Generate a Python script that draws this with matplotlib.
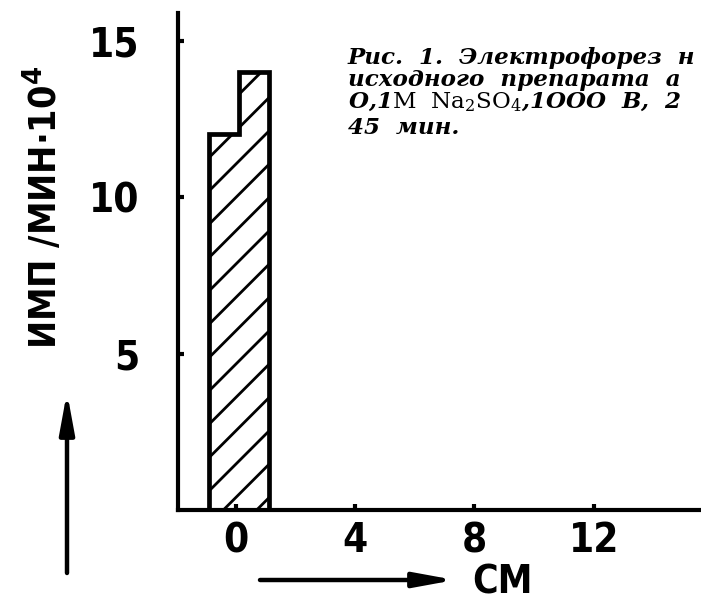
import matplotlib
matplotlib.use("Agg")
import matplotlib.pyplot as plt
import matplotlib.font_manager as fm

# ---------------- data ----------------
bin_edges = [-0.9, 0.1, 1.1]          # см
counts = [12, 14]                      # имп/мин ·10^4
x_ticks = [0, 4, 8, 12]
y_ticks = [5, 10, 15]
x_label = "СМ"
y_label = r"ИМП /МИН·10$^{\mathsf{4}}$"
caption_lines = [
    "Рис.  1.  Электрофорез  н",
    "исходного  препарата  а",
    r"O,1$\mathrm{M\ \ Na_{2}SO_{4}}$,1OOO  B,  2",
    "45  мин.",
]

# ---------------- fonts ----------------
avail = {f.name for f in fm.fontManager.ttflist}
SANS = "Liberation Sans Narrow" if "Liberation Sans Narrow" in avail else "DejaVu Sans"
plt.rcParams["font.family"] = [SANS, "DejaVu Sans"]
plt.rcParams["mathtext.fontset"] = "custom"
plt.rcParams["mathtext.rm"] = "DejaVu Serif"
plt.rcParams["mathtext.sf"] = SANS + ":bold"
plt.rcParams["hatch.linewidth"] = 1.0

DPI = 200
fig = plt.figure(figsize=(701 / DPI, 601 / DPI), dpi=DPI)
ax = fig.add_axes([178 / 701, 1 - 510 / 601, 1 - 178 / 701, (510 - 13) / 601])

ax.stairs(counts, bin_edges, baseline=0, fill=True, facecolor="white",
          edgecolor="black", linewidth=1.7, hatch="//")

ax.set_xlim(-1.94, 15.6)
ax.set_ylim(0, 15.88)
ax.set_xticks(x_ticks)
ax.set_yticks(y_ticks)
for s in ("top", "right"):
    ax.spines[s].set_visible(False)
for s in ("left", "bottom"):
    ax.spines[s].set_linewidth(1.5)

tick_font = dict(family=[SANS, "DejaVu Sans"], weight="bold", size=14.5, stretch="condensed")
ax.tick_params(axis="both", direction="in", length=2.2, width=1.5)
ax.tick_params(axis="y", pad=14)
ax.tick_params(axis="x", pad=4)
for lab in ax.get_xticklabels() + ax.get_yticklabels():
    lab.set_fontproperties(fm.FontProperties(**tick_font))

# axis labels (placed as in the scan)
fig.text(43 / 701, 1 - 207 / 601, y_label, rotation=90, ha="center", va="center",
         fontsize=13.5, fontweight="bold", fontstretch="condensed")
fig.text(472 / 701, 1 - 583 / 601, x_label, ha="left", va="center",
         fontsize=14, fontweight="bold", fontstretch="condensed")

arrow = dict(arrowstyle="-|>,head_length=1.2,head_width=0.22", color="black",
             lw=1.6, shrinkA=0, shrinkB=0, mutation_scale=10)
ax.annotate("", xy=(455, 601 - 580), xytext=(260, 601 - 580),
            xycoords="figure pixels", textcoords="figure pixels", arrowprops=arrow)
ax.annotate("", xy=(67, 601 - 392), xytext=(67, 601 - 573),
            xycoords="figure pixels", textcoords="figure pixels", arrowprops=arrow)

# caption
cap_tops = [47, 69, 91, 117]
for line, top in zip(caption_lines, cap_tops):
    fig.text(348 / 701, 1 - top / 601, line, ha="left", va="top",
             family="DejaVu Serif", style="italic", weight="bold", fontsize=8.3)

fig.savefig("out.png", dpi=DPI)
